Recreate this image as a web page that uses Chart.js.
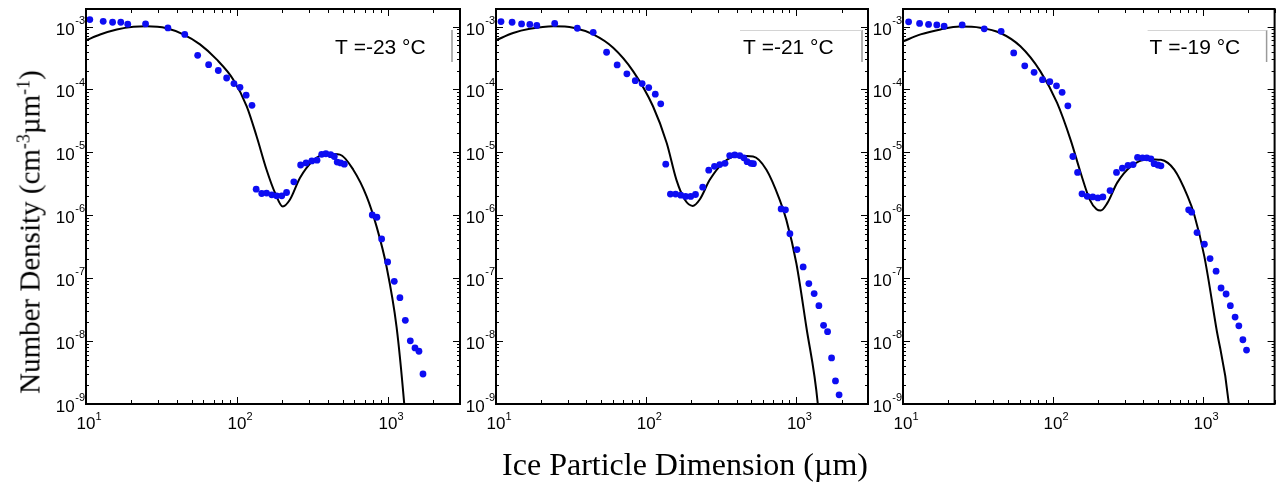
<!DOCTYPE html>
<html>
<head>
<meta charset="utf-8">
<script src="https://cdn.jsdelivr.net/npm/chart.js@4.4.1/dist/chart.umd.min.js"></script>
<style>
  body { margin: 0; background: #fff; }
  #wrap { position: relative; width: 1278px; height: 486px; overflow: hidden; background: #fff; }
  canvas { position: absolute; top: 0; }
  .ttl { position: absolute; font-family: "Liberation Serif", "Times New Roman", serif; color: #000; white-space: nowrap; line-height: 1; }
  #ytitle { font-size: 29px; left: 30px; top: 232px; transform: translate(-50%, -50%) rotate(-90deg); }
  #xtitle { font-size: 32px; left: 685px; top: 464px; transform: translate(-50%, -50%); }
  sup { font-size: 62%; vertical-align: 0.55em; line-height: 0; }
</style>
</head>
<body>
<div id="wrap">
  <canvas id="c1" width="470" height="440" style="left:0px"></canvas>
  <canvas id="c2" width="430" height="440" style="left:445px"></canvas>
  <canvas id="c3" width="423" height="440" style="left:855px"></canvas>
  <div class="ttl" id="ytitle">Number Density (cm<sup>-3</sup>µm<sup>-1</sup>)</div>
  <div class="ttl" id="xtitle">Ice Particle Dimension (µm)</div>
</div>
<script>
// axis ticks
const xTicks = [10, 100, 1000];
const yTicks = [1e-9, 1e-8, 1e-7, 1e-6, 1e-5, 1e-4, 1e-3];
const labels = ['T =-23 °C', 'T =-21 °C', 'T =-19 °C'];

// T = -23 C measured
const size23 = [10.6, 13.0, 15.0, 17.0, 18.9, 24.8, 34.9, 45.1, 54.9, 64.9, 75.2, 85.4, 95.5, 104.7, 115, 125.7,
  134, 145.8, 157, 170, 183, 198, 213, 238, 264, 287, 313, 339, 364, 388, 417, 441, 461, 486, 514,
  787, 845, 908, 995, 1101, 1200, 1303, 1406, 1510, 1604, 1706];
const dens23 = [1.29e-3, 1.21e-3, 1.17e-3, 1.17e-3, 1.09e-3, 1.10e-3, 9.5e-4, 7.5e-4, 3.49e-4, 2.48e-4, 2.0e-4, 1.52e-4, 1.24e-4, 1.08e-4, 8.1e-5, 5.6e-5,
  2.6e-6, 2.22e-6, 2.25e-6, 2.11e-6, 2.04e-6, 2.04e-6, 2.3e-6, 3.4e-6, 6.3e-6, 6.8e-6, 7.3e-6, 7.5e-6, 9.3e-6, 9.5e-6, 9.2e-6, 8.6e-6, 7.0e-6, 6.8e-6, 6.5e-6,
  1.01e-6, 9.3e-7, 4.2e-7, 1.81e-7, 8.9e-8, 4.9e-8, 2.14e-8, 1.01e-8, 7.8e-9, 6.9e-9, 3.0e-9];
// T = -23 C fit
const fitSize23 = [10, 12.4, 16, 20.6, 25.2, 34.2, 44.1, 56.9, 73.3, 94.6, 116, 135, 157, 179, 201, 224, 261, 320, 393, 481, 589, 722, 841, 979, 1140, 1282, 1320];
const fitDens23 = [6.05e-4, 7.46e-4, 8.96e-4, 9.9e-4, 1.01e-3, 9.4e-4, 7.5e-4, 5.2e-4, 3.0e-4, 1.43e-4, 5.4e-5, 1.79e-5, 5.3e-6, 2.25e-6, 1.38e-6, 1.76e-6, 3.9e-6, 7.4e-6, 9.5e-6, 9.2e-6, 5.3e-6, 2.0e-6, 6.6e-7, 1.52e-7, 1.69e-8, 1.0e-9, 4e-10];

// T = -21 C measured
const size21 = [10.8, 12.8, 14.8, 16.8, 18.7, 24.6, 34.8, 44.4, 54.5, 64.1, 74.4, 84.6, 94, 104, 115, 125,
  135, 145, 157, 170, 183, 198, 213, 238, 261, 285, 309, 335, 360, 389, 420, 447, 470, 498, 518,
  792, 846, 906, 1009, 1110, 1211, 1314, 1413, 1518, 1614, 1716, 1822, 1926];
const dens21 = [1.2e-3, 1.17e-3, 1.10e-3, 1.08e-3, 1.04e-3, 1.12e-3, 9.4e-4, 8.1e-4, 3.9e-4, 2.45e-4, 1.77e-4, 1.38e-4, 1.24e-4, 1.07e-4, 8.4e-5, 5.9e-5,
  6.5e-6, 2.17e-6, 2.17e-6, 2.09e-6, 1.99e-6, 1.99e-6, 2.14e-6, 2.8e-6, 5.2e-6, 6.0e-6, 6.4e-6, 6.7e-6, 8.9e-6, 9.1e-6, 8.9e-6, 8.2e-6, 7.1e-6, 6.7e-6, 6.6e-6,
  1.26e-6, 1.22e-6, 5.1e-7, 2.85e-7, 1.51e-7, 8.2e-8, 5.7e-8, 3.65e-8, 1.78e-8, 1.41e-8, 5.4e-9, 2.33e-9, 1.4e-9];
// T = -21 C fit
const fitSize21 = [10, 13.0, 16.8, 24.0, 32.7, 44.4, 60.3, 82, 111, 137, 159, 181, 204, 228, 265, 325, 409, 515, 632, 775, 858, 1000, 1165, 1390, 1430];
const fitDens21 = [6.05e-4, 7.9e-4, 9.2e-4, 1.01e-3, 9.6e-4, 7.5e-4, 4.6e-4, 1.94e-4, 5.4e-5, 1.41e-5, 3.66e-6, 1.76e-6, 1.41e-6, 1.8e-6, 3.66e-6, 6.8e-6, 8.8e-6, 8.6e-6, 5.3e-6, 1.76e-6, 8.45e-7, 1.73e-7, 1.69e-8, 1.0e-9, 4e-10];

// T = -19 C measured
const size19 = [10.9, 12.9, 14.8, 16.8, 18.8, 24.8, 34.8, 45.1, 54.7, 64.8, 74.8, 85.1, 95.2, 105.5, 115, 125.6,
  135.6, 145.8, 156, 169, 184, 199, 215, 240, 265, 290, 316, 342, 366, 395, 422, 449, 472, 500, 524,
  802, 840, 912, 1021, 1114, 1222, 1319, 1425, 1521, 1636, 1733, 1844, 1950];
const dens19 = [1.19e-3, 1.12e-3, 1.08e-3, 1.06e-3, 1.01e-3, 1.06e-3, 9.2e-4, 8.4e-4, 3.8e-4, 2.37e-4, 1.87e-4, 1.43e-4, 1.33e-4, 1.14e-4, 9.0e-5, 5.5e-5,
  8.6e-6, 4.8e-6, 2.19e-6, 2.0e-6, 1.96e-6, 1.89e-6, 1.96e-6, 2.47e-6, 4.8e-6, 5.6e-6, 6.2e-6, 6.4e-6, 8.3e-6, 8.2e-6, 8.2e-6, 7.9e-6, 6.6e-6, 6.3e-6, 6.1e-6,
  1.22e-6, 1.12e-6, 5.3e-7, 3.47e-7, 2.05e-7, 1.29e-7, 6.98e-8, 5.6e-8, 3.65e-8, 2.41e-8, 1.75e-8, 1.05e-8, 7.2e-9];
// T = -19 C fit
const fitSize19 = [10, 13.1, 17.8, 24.0, 32.7, 44.6, 60.6, 82.4, 106.5, 131, 153, 176, 195, 208, 230, 268, 330, 426, 524, 643, 790, 875, 1021, 1222, 1487, 1530];
const fitDens19 = [5.8e-4, 7.5e-4, 9.0e-4, 1.0e-3, 9.6e-4, 7.9e-4, 4.85e-4, 1.94e-4, 6.1e-5, 1.58e-5, 4.7e-6, 1.76e-6, 1.25e-6, 1.19e-6, 1.56e-6, 3.3e-6, 5.96e-6, 7.8e-6, 7.6e-6, 5.3e-6, 1.99e-6, 1.01e-6, 2.2e-7, 1.69e-8, 1.0e-9, 4e-10];

function pairs(xs, ys) { return xs.map((x, i) => ({ x: x, y: ys[i] })); }
const FONT = '"Liberation Sans", Arial, sans-serif';

// box, inward ticks, 10^n tick labels, temperature label and the clipped legend frame
const frame = {
  id: 'frame',
  afterDraw(chart, args, opts) {
    const { ctx, chartArea: a, scales: { x, y } } = chart;
    ctx.save();
    ctx.strokeStyle = '#000';
    ctx.lineWidth = 1;
    ctx.beginPath();
    for (const d of xTicks) {
      for (let m = 1; m <= 9; m++) {
        const v = d * m;
        if (v > x.max) break;
        const px = Math.round(x.getPixelForValue(v)) + 0.5;
        const len = m === 1 ? 7 : 4;
        ctx.moveTo(px, a.bottom); ctx.lineTo(px, a.bottom - len);
        ctx.moveTo(px, a.top); ctx.lineTo(px, a.top + len);
      }
    }
    for (const d of yTicks) {
      for (let m = 1; m <= 9; m++) {
        const v = d * m;
        if (v > y.max) break;
        const py = Math.round(y.getPixelForValue(v)) + 0.5;
        const len = m === 1 ? 7 : 3;
        ctx.moveTo(a.left, py); ctx.lineTo(a.left + len, py);
        ctx.moveTo(a.right, py); ctx.lineTo(a.right - len, py);
      }
    }
    ctx.stroke();
    ctx.lineWidth = 2;
    ctx.strokeRect(a.left, a.top, a.right - a.left, a.bottom - a.top);

    // tick labels as 10 with a raised exponent
    ctx.fillStyle = '#000';
    ctx.textBaseline = 'alphabetic';
    for (const t of y.ticks) {
      const py = y.getPixelForValue(t.value);
      const e = String(Math.round(Math.log10(t.value)));
      ctx.font = '11px ' + FONT;
      const ew = ctx.measureText(e).width;
      ctx.textAlign = 'right';
      ctx.fillText(e, a.left - 1, py - 3);
      ctx.font = '17px ' + FONT;
      ctx.fillText('10', a.left - 1.5 - ew, py + 8);
    }
    for (const t of x.ticks) {
      const px = x.getPixelForValue(t.value);
      const e = String(Math.round(Math.log10(t.value)));
      ctx.font = '17px ' + FONT;
      ctx.textAlign = 'center';
      ctx.fillText('10', px, a.bottom + 25);
      ctx.font = '11px ' + FONT;
      ctx.textAlign = 'left';
      ctx.fillText(e, px + 9.5, a.bottom + 16);
    }

    // legend remnants
    ctx.lineWidth = 1.5;
    ctx.strokeStyle = '#9a9a9a';
    ctx.beginPath();
    ctx.moveTo(a.right - opts.vx, a.top + 21); ctx.lineTo(a.right - opts.vx, a.top + 53);
    ctx.stroke();
    if (opts.topFrom) {
      ctx.strokeStyle = '#d4d4d4';
      ctx.lineWidth = 1;
      ctx.beginPath();
      ctx.moveTo(a.right - opts.topFrom, a.top + 21.5); ctx.lineTo(a.right - opts.vx, a.top + 21.5);
      ctx.stroke();
    }
    ctx.font = '21px ' + FONT;
    ctx.textAlign = 'left';
    ctx.textBaseline = 'middle';
    ctx.fillText(opts.label, a.right - 125, a.top + 39);
    ctx.restore();
  }
};

function makePanel(id, yWidth, padRight, dots, fit, frameOpts) {
  return new Chart(document.getElementById(id), {
    type: 'scatter',
    data: {
      datasets: [
        {
          data: dots,
          pointRadius: 3.4,
          pointHoverRadius: 3.4,
          pointBackgroundColor: '#0d0df2',
          pointBorderWidth: 0,
          showLine: false
        },
        {
          data: fit,
          showLine: true,
          pointRadius: 0,
          borderColor: '#000',
          borderWidth: 2,
          cubicInterpolationMode: 'monotone',
          fill: false
        }
      ]
    },
    options: {
      responsive: false,
      animation: false,
      events: [],
      layout: { padding: { top: 9, right: padRight, left: 0, bottom: 0 } },
      plugins: { legend: { display: false }, tooltip: { enabled: false }, frame: frameOpts },
      scales: {
        x: {
          type: 'logarithmic',
          min: 10,
          max: 3000,
          grid: { display: false },
          border: { display: false },
          afterBuildTicks: s => { s.ticks = xTicks.map(v => ({ value: v })); },
          afterFit: s => { s.height = 36; },
          ticks: { display: false }
        },
        y: {
          type: 'logarithmic',
          min: 1e-9,
          max: 1.9e-3,
          grid: { display: false },
          border: { display: false },
          afterBuildTicks: s => { s.ticks = yTicks.map(v => ({ value: v })); },
          afterFit: s => { s.width = yWidth; },
          ticks: { display: false }
        }
      }
    },
    plugins: [frame]
  });
}

makePanel('c1', 86, 10, pairs(size23, dens23), pairs(fitSize23, fitDens23), { label: labels[0], vx: 8, topFrom: 0 });
makePanel('c2', 51, 7, pairs(size21, dens21), pairs(fitSize21, fitDens21), { label: labels[1], vx: 6, topFrom: 128 });
makePanel('c3', 48, 3, pairs(size19, dens19), pairs(fitSize19, fitDens19), { label: labels[2], vx: 8, topFrom: 127 });
</script>
</body>
</html>
